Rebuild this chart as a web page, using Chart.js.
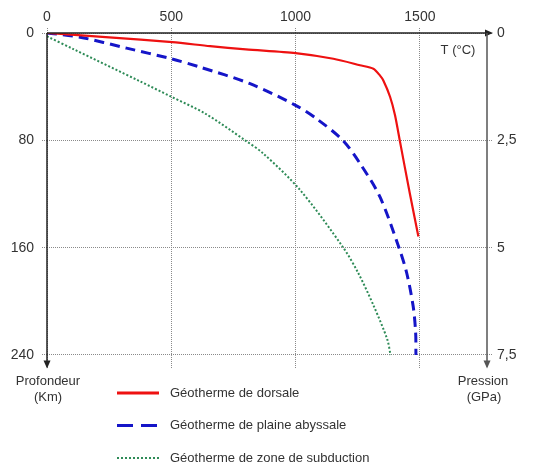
<!DOCTYPE html>
<html><head><meta charset="utf-8">
<script src="https://cdn.jsdelivr.net/npm/chart.js@4/dist/chart.umd.min.js"></script>
<style>html,body{margin:0;padding:0;background:#fff}canvas{display:block}</style>
</head>
<body>
<canvas id="c" width="533" height="463"></canvas>
<script>
// ---- data ----
const tempTicks = [0, 500, 1000, 1500];
const tempLabels = ['0', '500', '1000', '1500'];
const depthTicks = [0, 80, 160, 240];
const depthLabels = ['0', '80', '160', '240'];
const pressureTicks = [0, 2.5, 5, 7.5];
const pressureLabels = ['0', '2,5', '5', '7,5'];
const seriesNames = ['Géotherme de dorsale', 'Géotherme de plaine abyssale', 'Géotherme de zone de subduction'];

const dorsaleT     = [0, 250, 504, 656, 800, 1000, 1152, 1259, 1313, 1339, 1353, 1380, 1400, 1420, 1460, 1494];
const dorsaleDepth = [0, 3.3, 6.8, 9.8, 12.2, 15, 19.2, 24, 26.6, 31.6, 35.4, 47.5, 61.3, 81, 120, 151.7];

const plaineT     = [0, 133, 320, 500, 615, 817, 1000, 1085, 1190, 1259, 1339, 1416, 1447, 1473, 1483, 1484];
const plaineDepth = [0, 3.1, 11.3, 19.2, 25.4, 37.8, 53.9, 64, 80, 97.2, 122, 160, 178.9, 203.7, 223.5, 240];

const subductionT     = [0, 106, 374, 500, 636, 797, 870, 1018, 1192, 1252, 1315, 1369, 1382];
const subductionDepth = [2.5, 12, 36, 47.5, 60, 80, 89.8, 117, 160, 178.9, 203.7, 228.5, 240];

const xTitle = 'T (°C)';
const leftTitle = ['Profondeur', '(Km)'];
const rightTitle = ['Pression', '(GPa)'];

// ---- config ----
const FONT = "'Liberation Sans', Arial, sans-serif";
const TXT = '#333';
const X_MAX = 1770, Y_MAX = 250;
const RED = '#ee1111', BLUE = '#1515c8', GREEN = '#2e8b57';
const GRID = '#8a8a8a';
const toPts = (t, d) => t.map((v, i) => ({x: v, y: d[i]}));

function arrow(ctx, x, y, dir) {
  ctx.beginPath();
  if (dir === 'down') { ctx.moveTo(x - 3.5, y - 8); ctx.lineTo(x + 3.5, y - 8); ctx.lineTo(x, y); }
  else { ctx.moveTo(x - 8, y - 3.5); ctx.lineTo(x - 8, y + 3.5); ctx.lineTo(x, y); }
  ctx.closePath(); ctx.fill();
}

const overlay = {
  id: 'overlay',
  afterDraw(chart) {
    const {ctx, chartArea: a} = chart;
    ctx.save();
    // axes
    ctx.lineWidth = 1.5; ctx.setLineDash([]);
    ctx.strokeStyle = '#222'; ctx.fillStyle = '#222';
    ctx.beginPath(); ctx.moveTo(a.left, a.top); ctx.lineTo(a.left, a.bottom - 2); ctx.stroke();
    arrow(ctx, a.left, a.bottom, 'down');
    ctx.beginPath(); ctx.moveTo(a.left, a.top); ctx.lineTo(a.right + 4, a.top); ctx.stroke();
    arrow(ctx, a.right + 6, a.top, 'right');
    ctx.strokeStyle = '#555'; ctx.fillStyle = '#555';
    ctx.beginPath(); ctx.moveTo(a.right, a.top); ctx.lineTo(a.right, a.bottom - 2); ctx.stroke();
    arrow(ctx, a.right, a.bottom, 'down');

    // titles
    ctx.fillStyle = TXT; ctx.font = '13px ' + FONT;
    ctx.textAlign = 'center'; ctx.textBaseline = 'middle';
    ctx.fillText(xTitle, 458, 50);
    ctx.fillText(leftTitle[0], a.left + 1, 381);
    ctx.fillText(leftTitle[1], a.left + 1, 397.5);
    ctx.fillText(rightTitle[0], 483, 381);
    ctx.fillText(rightTitle[1], 484, 397.5);

    // legend
    const rows = [393, 425.5, 458];
    const styles = [
      {c: RED, w: 3, d: []},
      {c: BLUE, w: 3, d: [16, 8]},
      {c: GREEN, w: 2, d: [2, 2]}
    ];
    ctx.textAlign = 'left';
    rows.forEach((y, i) => {
      const s = styles[i];
      ctx.strokeStyle = s.c; ctx.lineWidth = s.w; ctx.setLineDash(s.d);
      ctx.beginPath(); ctx.moveTo(117, y); ctx.lineTo(159, y); ctx.stroke();
      ctx.setLineDash([]);
      ctx.fillStyle = TXT;
      ctx.fillText(seriesNames[i], 170, y);
    });
    ctx.restore();
  }
};

const tickFont = {family: FONT, size: 14};

new Chart(document.getElementById('c'), {
  type: 'scatter',
  data: {
    datasets: [
      {label: seriesNames[0], data: toPts(dorsaleT, dorsaleDepth), borderColor: RED, borderWidth: 2.2,
       showLine: true, pointRadius: 0, tension: 0.25, yAxisID: 'y'},
      {label: seriesNames[1], data: toPts(plaineT, plaineDepth), borderColor: BLUE, borderWidth: 3, borderDash: [10, 6],
       showLine: true, pointRadius: 0, tension: 0.3, yAxisID: 'y'},
      {label: seriesNames[2], data: toPts(subductionT, subductionDepth), borderColor: GREEN, borderWidth: 2, borderDash: [2, 2],
       showLine: true, pointRadius: 0, tension: 0.3, yAxisID: 'y'}
    ]
  },
  options: {
    responsive: false,
    animation: false,
    layout: {padding: {top: 0, left: 0, right: 0, bottom: 94.6}},
    plugins: {legend: {display: false}, tooltip: {enabled: false}},
    scales: {
      x: {
        type: 'linear', position: 'top', min: 0, max: X_MAX,
        afterBuildTicks: s => { s.ticks = tempTicks.map(v => ({value: v})); },
        ticks: {font: tickFont, color: TXT, padding: 2, maxRotation: 0, autoSkip: false,
                callback: (v, i) => tempLabels[i]},
        grid: {color: GRID, lineWidth: 1, tickLength: 5, tickBorderDash: [1, 1]},
        border: {display: false, dash: [1, 1]},
        afterFit: s => { s.height = 33; }
      },
      y: {
        type: 'linear', position: 'left', reverse: true, min: 0, max: Y_MAX,
        afterBuildTicks: s => { s.ticks = depthTicks.map(v => ({value: v})); },
        ticks: {font: tickFont, color: TXT, padding: 8, autoSkip: false,
                callback: (v, i) => depthLabels[i]},
        grid: {color: GRID, lineWidth: 1, tickLength: 5, tickBorderDash: [1, 1]},
        border: {display: false, dash: [1, 1]},
        afterFit: s => { s.width = 47; }
      },
      y2: {
        type: 'linear', position: 'right', reverse: true, min: 0, max: Y_MAX * 7.5 / 240,
        afterBuildTicks: s => { s.ticks = pressureTicks.map(v => ({value: v})); },
        ticks: {font: tickFont, color: TXT, padding: 5, autoSkip: false,
                callback: (v, i) => pressureLabels[i]},
        grid: {color: GRID, lineWidth: 1, tickLength: 5, drawOnChartArea: false, tickBorderDash: [1, 1]},
        border: {display: false, dash: [1, 1]},
        afterFit: s => { s.width = 46; }
      }
    }
  },
  plugins: [overlay]
});
</script>
</body></html>
